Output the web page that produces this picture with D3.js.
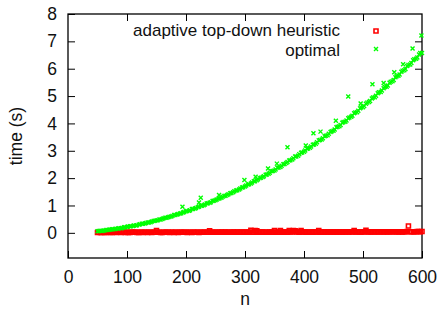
<!DOCTYPE html>
<html>
<head>
<meta charset="utf-8">
<script src="https://cdn.jsdelivr.net/npm/d3@7.9.0/dist/d3.min.js"></script>
<style>
  body { margin: 0; background: #fff; }
  svg { display: block; font-family: "Liberation Sans", Arial, sans-serif; }
</style>
</head>
<body>
<svg id="chart"></svg>
<script>
// x grid for the two interleaved sample runs (n = 50,55,...,600 and n = 52,57,...,597)
const nRunA = d3.range(50, 601, 5);
const nRunB = d3.range(52, 598, 5);

// optimal, time (s)
const optimalRunA = [
  0.06, 0.08, 0.08, 0.10, 0.11, 0.13, 0.14, 0.16, 0.17, 0.20,
  0.21, 0.24, 0.25, 0.27, 0.30, 0.33, 0.34, 0.38, 0.39, 0.43,
  0.45, 0.49, 0.51, 0.55, 0.57, 0.60, 0.65, 0.67, 0.71, 0.74,
  0.79, 0.81, 0.87, 0.89, 0.94, 0.99, 1.01, 1.07, 1.10, 1.16,
  1.19, 1.25, 1.28, 1.35, 1.38, 1.45, 1.48, 1.55, 1.58, 1.66,
  1.69, 1.77, 1.80, 1.89, 1.92, 2.00, 2.04, 2.12, 2.16, 2.25,
  2.28, 2.38, 2.41, 2.51, 2.55, 2.64, 2.68, 2.79, 2.82, 2.93,
  2.96, 3.07, 3.11, 3.22, 3.26, 3.38, 3.41, 3.53, 3.57, 3.69,
  3.73, 3.86, 3.90, 4.02, 4.06, 4.19, 4.24, 4.37, 4.41, 4.55,
  4.59, 4.72, 4.78, 4.91, 4.96, 5.10, 5.15, 5.29, 5.34, 5.49,
  5.54, 5.69, 5.74, 5.89, 5.94, 6.10, 6.15, 6.31, 6.36, 6.52,
  6.57
];
const optimalRunB = [
  0.07, 0.07, 0.09, 0.10, 0.12, 0.13, 0.15, 0.17, 0.18, 0.20,
  0.23, 0.24, 0.27, 0.28, 0.31, 0.33, 0.36, 0.38, 0.41, 0.44,
  0.46, 0.49, 0.53, 0.55, 0.59, 0.62, 0.65, 0.69, 0.72, 0.76,
  0.80, 0.83, 0.87, 0.91, 0.95, 0.99, 1.04, 1.08, 1.12, 1.17,
  1.22, 1.26, 1.32, 1.36, 1.41, 1.46, 1.52, 1.56, 1.62, 1.67,
  1.73, 1.78, 1.84, 1.89, 1.96, 2.01, 2.07, 2.13, 2.20, 2.26,
  2.32, 2.39, 2.45, 2.52, 2.59, 2.65, 2.73, 2.79, 2.87, 2.94,
  3.01, 3.08, 3.16, 3.23, 3.31, 3.39, 3.46, 3.55, 3.62, 3.71,
  3.78, 3.88, 3.94, 4.05, 4.11, 4.22, 4.28, 4.40, 4.46, 4.58,
  4.64, 4.76, 4.82, 4.95, 5.01, 5.14, 5.20, 5.33, 5.39, 5.52,
  5.59, 5.72, 5.79, 5.93, 5.99, 6.14, 6.21, 6.35, 6.41, 6.57
];
// slow runs sitting above the optimal curve
const optimalOutliers = [
  [194, 0.95], [222, 1.11], [225, 1.28], [256, 1.38], [299, 1.93], [318, 2.05],
  [339, 2.35], [354, 2.53], [372, 3.13], [403, 3.19], [416, 3.64], [428, 3.70],
  [454, 4.10], [475, 4.98], [496, 4.73], [516, 5.43], [535, 5.48], [553, 5.87],
  [568, 6.16], [584, 6.74], [599, 7.21]
];

// adaptive top-down heuristic, time (s)
const heuristicRunA = [
  0.01, 0.01, 0.02, 0.01, 0.02, 0.01, 0.02, 0.02, 0.01, 0.02,
  0.02, 0.01, 0.02, 0.02, 0.01, 0.02, 0.02, 0.01, 0.02, 0.02,
  0.08, 0.02, 0.01, 0.02, 0.02, 0.02, 0.01, 0.02, 0.02, 0.02,
  0.02, 0.02, 0.01, 0.02, 0.02, 0.02, 0.02, 0.02, 0.07, 0.02,
  0.02, 0.02, 0.03, 0.02, 0.02, 0.02, 0.03, 0.02, 0.02, 0.03,
  0.02, 0.02, 0.09, 0.02, 0.07, 0.02, 0.03, 0.02, 0.02, 0.03,
  0.08, 0.02, 0.08, 0.03, 0.03, 0.08, 0.03, 0.07, 0.03, 0.08,
  0.03, 0.03, 0.02, 0.03, 0.03, 0.08, 0.03, 0.03, 0.03, 0.03,
  0.03, 0.03, 0.03, 0.03, 0.03, 0.03, 0.04, 0.08, 0.03, 0.03,
  0.04, 0.09, 0.03, 0.04, 0.03, 0.04, 0.04, 0.03, 0.04, 0.04,
  0.04, 0.04, 0.03, 0.04, 0.04, 0.05, 0.04, 0.04, 0.04, 0.05,
  0.05
];
const heuristicRunB = [
  0.02, 0.01, 0.01, 0.02, 0.01, 0.02, 0.01, 0.02, 0.02, 0.01,
  0.01, 0.02, 0.02, 0.01, 0.02, 0.01, 0.02, 0.02, 0.01, 0.02,
  0.02, 0.01, 0.02, 0.02, 0.01, 0.02, 0.02, 0.01, 0.02, 0.02,
  0.01, 0.02, 0.02, 0.02, 0.01, 0.02, 0.02, 0.02, 0.02, 0.02,
  0.02, 0.02, 0.02, 0.03, 0.02, 0.02, 0.02, 0.03, 0.02, 0.02,
  0.03, 0.02, 0.02, 0.08, 0.02, 0.03, 0.02, 0.02, 0.03, 0.02,
  0.02, 0.03, 0.02, 0.03, 0.02, 0.03, 0.08, 0.03, 0.02, 0.03,
  0.03, 0.02, 0.03, 0.03, 0.03, 0.02, 0.03, 0.03, 0.03, 0.03,
  0.03, 0.03, 0.03, 0.03, 0.04, 0.03, 0.03, 0.03, 0.04, 0.03,
  0.03, 0.04, 0.03, 0.04, 0.04, 0.03, 0.04, 0.04, 0.03, 0.04,
  0.04, 0.04, 0.04, 0.03, 0.04, 0.25, 0.04, 0.04, 0.05, 0.04
];

const xTicks = [0, 100, 200, 300, 400, 500, 600];
const yTicks = [0, 1, 2, 3, 4, 5, 6, 7, 8];
const seriesNames = ['adaptive top-down heuristic', 'optimal'];
const seriesColors = ['#ff0000', '#00ff00'];

const width = 438;
const height = 314;
const plot = { left: 68, right: 422, top: 14, bottom: 258 };
const fontSize = 17.5;
const legendFontSize = 17;

const heuristic = nRunA.map((n, i) => [n, heuristicRunA[i]])
  .concat(nRunB.map((n, i) => [n, heuristicRunB[i]]));
const optimal = nRunA.map((n, i) => [n, optimalRunA[i]])
  .concat(nRunB.map((n, i) => [n, optimalRunB[i]]))
  .concat(optimalOutliers);

const xScale = d3.scaleLinear().domain([0, 600]).range([plot.left, plot.right]);
const yScale = d3.scaleLinear().domain([-0.92, 8]).range([plot.bottom, plot.top]);

const svg = d3.select('#chart')
  .attr('width', width)
  .attr('height', height)
  .attr('viewBox', `0 0 ${width} ${height}`);

// axes: ticks point inward, mirrored on top and right like gnuplot
function styleAxis(g) {
  g.select('.domain').remove();
  g.selectAll('.tick line').attr('stroke', '#000').attr('stroke-width', 1);
  g.selectAll('.tick text').attr('fill', '#111').style('font-size', fontSize + 'px')
    .style('font-family', '"Liberation Sans", Arial, sans-serif');
}

svg.append('g')
  .attr('transform', `translate(0, ${plot.bottom})`)
  .call(d3.axisBottom(xScale).tickValues(xTicks).tickSize(-7).tickPadding(13))
  .call(styleAxis);
svg.append('g')
  .attr('transform', `translate(0, ${plot.top})`)
  .call(d3.axisTop(xScale).tickValues(xTicks.slice(1, -1)).tickSize(-7).tickFormat(''))
  .call(styleAxis);
svg.append('g')
  .attr('transform', `translate(${plot.left}, 0)`)
  .call(d3.axisLeft(yScale).tickValues(yTicks).tickSize(-7).tickPadding(11))
  .call(styleAxis);
svg.append('g')
  .attr('transform', `translate(${plot.right}, 0)`)
  .call(d3.axisRight(yScale).tickValues(yTicks.slice(0, -1)).tickSize(-7).tickFormat(''))
  .call(styleAxis);

// frame
svg.append('rect')
  .attr('x', plot.left)
  .attr('y', plot.top)
  .attr('width', plot.right - plot.left)
  .attr('height', plot.bottom - plot.top)
  .attr('fill', 'none')
  .attr('stroke', '#000')
  .attr('stroke-width', 1.3);

// axis titles
svg.append('text')
  .attr('transform', `translate(22, ${(plot.top + plot.bottom) / 2}) rotate(-90)`)
  .attr('text-anchor', 'middle')
  .attr('fill', '#111')
  .style('font-size', fontSize + 'px')
  .text('time (s)');
svg.append('text')
  .attr('x', (plot.left + plot.right) / 2)
  .attr('y', 305)
  .attr('text-anchor', 'middle')
  .attr('fill', '#111')
  .style('font-size', fontSize + 'px')
  .text('n');

const squarePath = (cx, cy) => `M${cx - 2},${cy - 2}h4v4h-4z`;
const crossPath = (cx, cy) => `M${cx - 2},${cy - 2}L${cx + 2},${cy + 2}M${cx - 2},${cy + 2}L${cx + 2},${cy - 2}`;

// heuristic points (open squares)
svg.append('g').attr('class', 'heuristic')
  .selectAll('path')
  .data(heuristic)
  .join('path')
  .attr('d', (d) => squarePath(xScale(d[0]), yScale(d[1])))
  .attr('fill', 'none')
  .attr('stroke', seriesColors[0])
  .attr('stroke-width', 1.6);

// optimal points (crosses)
svg.append('g').attr('class', 'optimal')
  .selectAll('path')
  .data(optimal)
  .join('path')
  .attr('d', (d) => crossPath(xScale(d[0]), yScale(d[1])))
  .attr('fill', 'none')
  .attr('stroke', seriesColors[1])
  .attr('stroke-width', 1.4);

// legend
const legend = svg.append('g').attr('class', 'legend');
seriesNames.forEach((name, i) => {
  const ty = 36 + i * 20;
  legend.append('text')
    .attr('x', 340)
    .attr('y', ty)
    .attr('text-anchor', 'end')
    .attr('fill', '#111')
    .style('font-size', legendFontSize + 'px')
    .text(name);
  legend.append('path')
    .attr('d', i === 0 ? squarePath(376, ty - 5) : crossPath(376, ty - 7))
    .attr('fill', 'none')
    .attr('stroke', seriesColors[i])
    .attr('stroke-width', i === 0 ? 1.6 : 1.4);
});
</script>
</body>
</html>
